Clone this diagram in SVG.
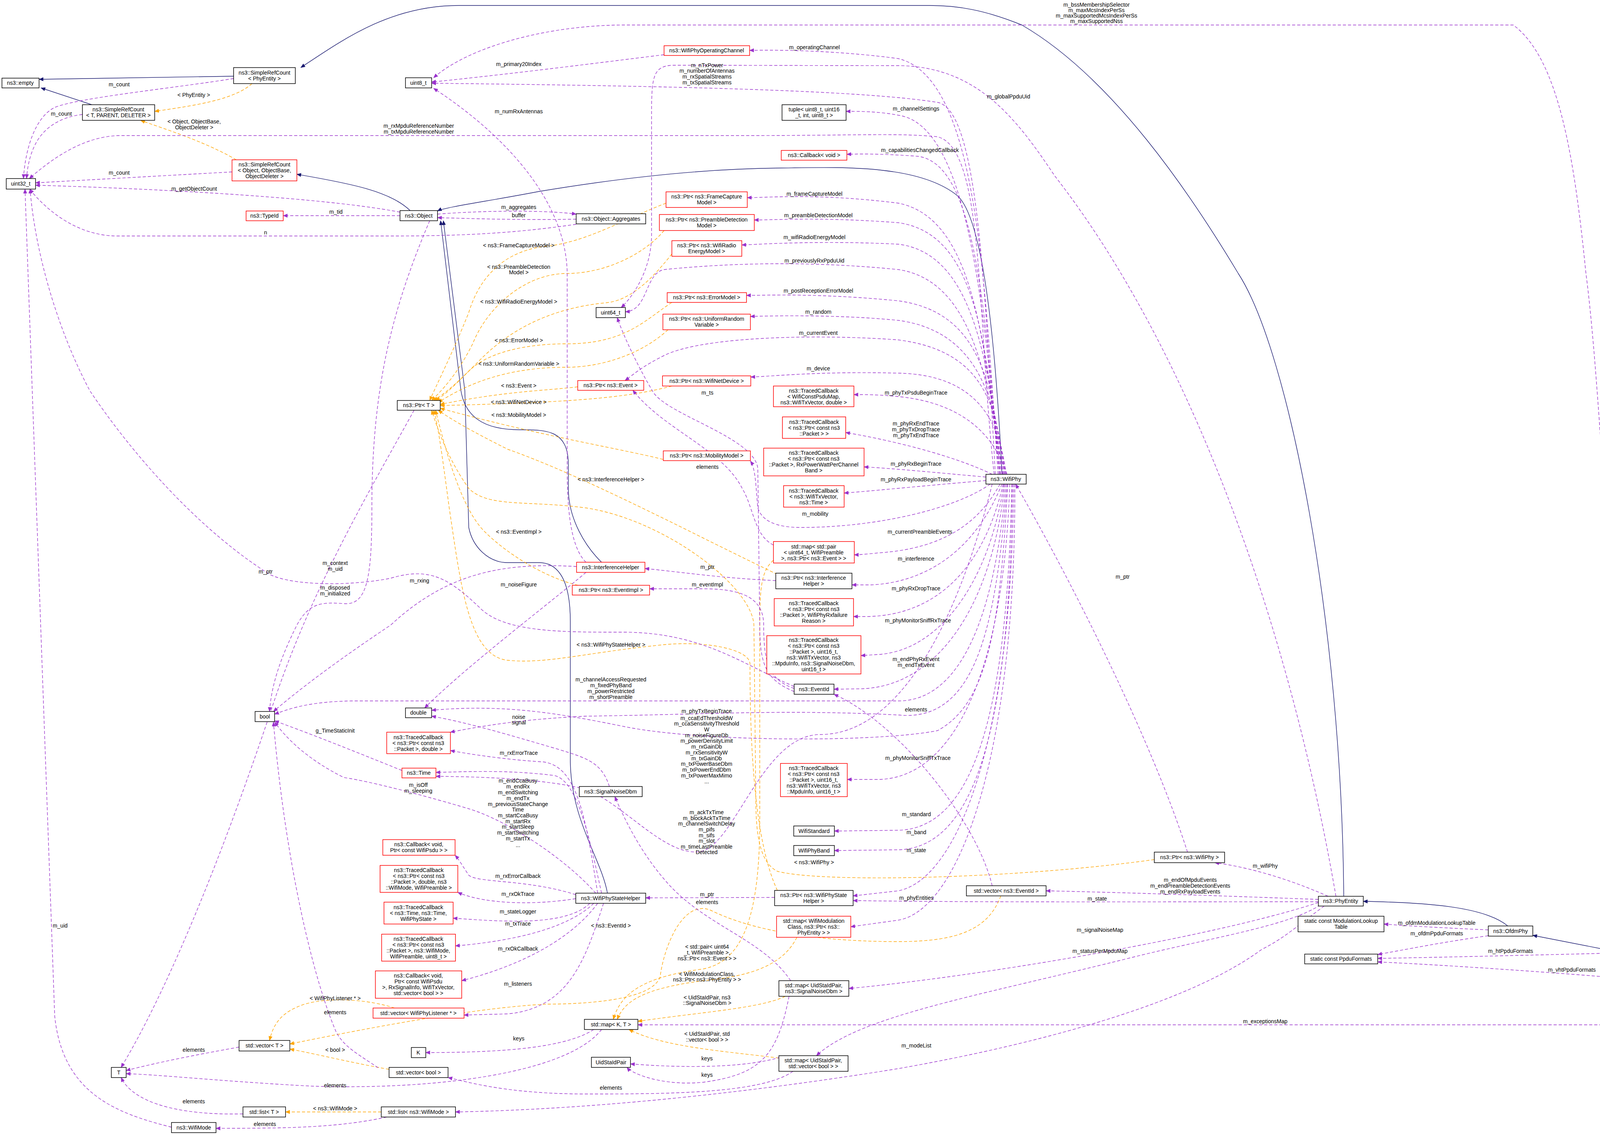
<svg xmlns="http://www.w3.org/2000/svg" width="4355" height="2905" viewBox="0 0 4355 2905">
<style>
text{font-family:"Liberation Sans",Arial,sans-serif;font-size:14px;text-anchor:middle;fill:#000}
.nb rect{fill:#fff;stroke:#000;stroke-width:1.5}
.nr rect{fill:#fff;stroke:#ff0000;stroke-width:1.5}
.ng rect{fill:#bfbfbf;stroke:#000;stroke-width:1.5}
#edges path{fill:none;stroke-width:1.4}
#edges .e{stroke:#9a32cd;stroke-dasharray:8,5;marker-end:url(#ap)}
#edges .o{stroke:#ffa500;stroke-dasharray:8,5;marker-end:url(#ao)}
#edges .h{stroke:#191970;marker-end:url(#ah)}
</style>
<defs>
<marker id="ap" viewBox="0 0 12 10" refX="11" refY="5" markerWidth="12" markerHeight="10" markerUnits="userSpaceOnUse" orient="auto"><path d="M0,0L12,5L0,10z" fill="#9a32cd"/></marker>
<marker id="ao" viewBox="0 0 12 10" refX="11" refY="5" markerWidth="12" markerHeight="10" markerUnits="userSpaceOnUse" orient="auto"><path d="M0,0L12,5L0,10z" fill="#ffa500"/></marker>
<marker id="ah" viewBox="0 0 12 10" refX="11" refY="5" markerWidth="12" markerHeight="10" markerUnits="userSpaceOnUse" orient="auto"><path d="M0,0L12,5L0,10z" fill="#191970"/></marker>
</defs>
<rect width="4355" height="2905" fill="#fff"/>
<g id="edges">
<path class="h" d="M3440,2294 C3435,1600 3300,900 3170,700 C3050,500 2850,200 2616,64 C2520,25 2450,14 2380,14 L1175,14 C1000,14 880,100 770,173"/>
<path class="h" d="M598,195 L100,203"/>
<path class="h" d="M235,268 L105,225"/>
<path class="h" d="M1050,539 C1000,490 900,470 760,446"/>
<path class="h" d="M2565,1214 C2550,900 2520,560 2450,500 C2350,420 2150,428 2000,430 C1750,432 1500,470 1380,490 C1250,515 1140,530 1120,540"/>
<path class="h" d="M1540,1439 C1500,1400 1455,1330 1455,1250 L1455,1190 C1455,1100 1400,1100 1330,1100 C1230,1100 1190,1060 1180,1000 L1128,565"/>
<path class="h" d="M1555,2286 C1540,2200 1462,2100 1460,1950 L1460,1590 C1460,1470 1420,1440 1380,1440 L1300,1440 C1250,1440 1210,1400 1200,1350 L1190,1000 L1135,565"/>
<path class="h" d="M3860,2370 C3800,2320 3650,2310 3490,2307"/>
<path class="h" d="M4108,2430 L3924,2394"/>
<path class="h" d="M4280,2502 L4185,2451"/>
<path class="o" d="M645,214 C600,255 500,270 396,285"/>
<path class="o" d="M605,409 C520,360 420,330 360,308"/>
<path class="o" d="M1705,520 C1600,560 1500,620 1400,630 C1300,640 1230,700 1200,800 C1160,900 1120,980 1100,1025"/>
<path class="o" d="M1700,590 C1650,650 1550,700 1450,700 C1350,700 1250,780 1210,880 C1170,960 1130,1000 1105,1025"/>
<path class="o" d="M1720,650 C1680,700 1620,770 1550,775 C1400,790 1300,850 1230,920 C1180,970 1150,1000 1110,1025"/>
<path class="o" d="M1720,774 C1650,820 1600,880 1450,880 C1350,880 1250,900 1200,950 C1160,990 1140,1010 1115,1025"/>
<path class="o" d="M1710,844 C1650,900 1550,940 1450,940 C1300,940 1200,980 1122,1030"/>
<path class="o" d="M1479,990 C1400,1000 1300,1000 1127,1035"/>
<path class="o" d="M1720,988 C1600,1020 1450,1030 1127,1038"/>
<path class="o" d="M1710,1179 C1600,1150 1400,1120 1127,1045"/>
<path class="o" d="M1990,1470 C1800,1380 1500,1220 1300,1150 C1200,1100 1150,1070 1122,1050"/>
<path class="o" d="M1480,1498 C1400,1480 1300,1420 1240,1360 C1180,1300 1140,1150 1115,1050"/>
<path class="o" d="M1990,2279 C1930,2150 1920,1900 1920,1700 C1920,1660 1800,1640 1700,1650 C1500,1670 1400,1700 1300,1690 C1200,1680 1180,1500 1150,1300 C1130,1150 1120,1080 1110,1050"/>
<path class="o" d="M2955,2200 C2600,2250 2100,2260 1990,2230 C1950,2210 1935,2150 1935,2050 L1930,1600 C1925,1500 1700,1330 1500,1300 C1350,1280 1250,1300 1200,1250 C1150,1180 1120,1100 1105,1050"/>
<path class="o" d="M1980,1434 C1950,1460 1945,1500 1945,1600 L1945,2100 C1945,2350 1900,2460 1800,2480 C1650,2500 1590,2540 1570,2609"/>
<path class="o" d="M2040,2399 C2000,2480 1900,2500 1800,2510 C1650,2530 1600,2560 1580,2609"/>
<path class="o" d="M2010,2550 C1950,2580 1800,2590 1633,2614"/>
<path class="o" d="M1994,2708 C1850,2690 1700,2680 1610,2635"/>
<path class="o" d="M1010,2580 C950,2560 850,2550 780,2570 C720,2590 700,2620 690,2663"/>
<path class="o" d="M996,2737 C900,2720 820,2700 742,2685"/>
<path class="o" d="M976,2846 L731,2846"/>
<path class="o" d="M2562,2293 C2530,2380 2450,2410 2300,2410 C2050,2410 1900,2370 1820,2330 C1750,2300 1700,2420 1690,2500 C1670,2560 1500,2570 1400,2570 C1200,2580 900,2640 742,2672"/>
<path class="e" d="M598,201 C450,225 200,250 140,275 C90,300 65,380 60,457"/>
<path class="e" d="M211,293 C150,300 110,330 90,370 C75,400 70,430 68,457"/>
<path class="e" d="M594,440 L91,468"/>
<path class="e" d="M1024,543 C800,500 300,480 91,474"/>
<path class="e" d="M1024,552 L725,552"/>
<path class="e" d="M1120,548 C1250,538 1400,538 1475,548"/>
<path class="e" d="M1475,561 C1350,563 1250,561 1120,557"/>
<path class="e" d="M1475,574 C1300,600 1150,604 1000,604 L300,604 C200,604 120,540 76,484"/>
<path class="e" d="M2545,1214 C2500,800 2520,380 2400,350 C2300,340 2200,347 1900,347 L310,347 C220,347 140,400 75,457"/>
<path class="e" d="M1700,140 C1500,165 1300,190 1105,210"/>
<path class="e" d="M2548,1214 C2520,700 2500,280 2400,262 C2200,230 1700,220 1105,213"/>
<path class="e" d="M1500,1439 C1460,1400 1452,1300 1452,1200 L1452,700 C1450,520 1300,350 1110,226"/>
<path class="e" d="M3420,2294 C3300,1600 3050,900 2700,450 C2600,300 2500,170 2300,168 L1720,167 C1670,170 1668,200 1668,300 L1668,600 C1668,700 1610,770 1590,787"/>
<path class="e" d="M2555,1214 C2520,700 2500,200 2300,150 C2150,130 2000,127 1919,129"/>
<path class="e" d="M2558,1214 C2520,800 2480,320 2300,295 C2250,285 2200,285 2166,285"/>
<path class="e" d="M2560,1214 C2520,800 2500,420 2350,400 C2280,395 2220,393 2168,395"/>
<path class="e" d="M2562,1214 C2520,900 2500,560 2300,520 C2100,495 1980,505 1913,506"/>
<path class="e" d="M2565,1214 C2520,900 2510,600 2300,570 C2100,555 1990,563 1931,563"/>
<path class="e" d="M2567,1214 C2530,950 2500,650 2300,625 C2100,615 1950,625 1899,627"/>
<path class="e" d="M2568,1214 C2530,1000 2500,720 2300,690 C2100,670 1900,670 1700,690 C1650,700 1660,795 1601,798"/>
<path class="e" d="M2570,1214 C2540,1000 2520,800 2300,770 C2100,750 1960,756 1911,756"/>
<path class="e" d="M2572,1214 C2550,1050 2520,850 2300,820 C2150,805 1980,808 1921,810"/>
<path class="e" d="M2574,1214 C2550,1050 2530,900 2300,870 C2100,855 1800,860 1700,910 C1640,940 1620,960 1600,974"/>
<path class="e" d="M2576,1214 C2560,1100 2520,960 2300,955 C2100,950 1980,963 1922,965"/>
<path class="e" d="M2578,1214 C2540,1100 2450,1030 2300,1015 C2250,1010 2220,1010 2186,1010"/>
<path class="e" d="M2540,1214 C2450,1170 2300,1130 2165,1107"/>
<path class="e" d="M2524,1221 C2400,1210 2300,1200 2212,1195"/>
<path class="e" d="M2524,1230 C2400,1240 2250,1255 2161,1262"/>
<path class="e" d="M2535,1239 C2450,1300 2250,1350 2050,1350 C1980,1350 1950,1330 1940,1300 C1935,1250 1935,1200 1921,1180"/>
<path class="e" d="M2560,1239 C2500,1350 2400,1405 2250,1415 C2220,1418 2200,1420 2187,1420"/>
<path class="e" d="M2565,1239 C2500,1400 2380,1490 2230,1497 L2181,1497"/>
<path class="e" d="M2568,1239 C2520,1450 2400,1575 2220,1578 L2185,1578"/>
<path class="e" d="M2570,1239 C2530,1500 2400,1665 2250,1675 L2204,1678"/>
<path class="e" d="M2572,1239 C2540,1550 2400,1760 2200,1763 L2135,1764"/>
<path class="e" d="M2575,1239 C2545,1600 2450,1794 2300,1794 L900,1794 C800,1796 750,1810 703,1828"/>
<path class="e" d="M2578,1239 C2550,1600 2500,1850 2300,1830 C2000,1815 1800,1829 1500,1833 C1350,1840 1250,1855 1153,1874"/>
<path class="e" d="M2580,1239 C2560,1600 2530,1800 2400,1870 C2250,1900 1800,1900 1600,1860 C1450,1830 1300,1800 1105,1818"/>
<path class="e" d="M2585,1239 C2570,1700 2450,1990 2250,1995 L2169,1995"/>
<path class="e" d="M2590,1239 C2580,1800 2500,2120 2300,2125 L2136,2127"/>
<path class="e" d="M2592,1239 C2585,1850 2500,2170 2300,2175 L2136,2177"/>
<path class="e" d="M2595,1239 C2590,1900 2450,2250 2300,2280 L2184,2293"/>
<path class="e" d="M2598,1239 C2600,1950 2450,2330 2300,2355 L2178,2372"/>
<path class="e" d="M2033,1770 C1960,1740 1945,1700 1945,1600 L1940,1200 C1935,1120 1700,1060 1670,1000 C1640,950 1600,870 1580,813"/>
<path class="e" d="M1980,1395 C1930,1370 1930,1300 1900,1250 C1850,1150 1700,1100 1620,999"/>
<path class="e" d="M1986,1486 C1850,1480 1750,1465 1651,1455"/>
<path class="e" d="M2033,1762 C1970,1740 1955,1700 1955,1600 C1955,1530 1900,1507 1800,1507 L1663,1507"/>
<path class="e" d="M2540,2267 C2500,2100 2300,1850 2135,1777"/>
<path class="e" d="M2033,1757 C1900,1700 1800,1620 1600,1618 C1450,1618 1300,1620 1234,1561 C1150,1480 1100,1450 1000,1480 C900,1500 750,1500 690,1470 C500,1350 330,1150 230,1000 C150,850 90,650 77,484"/>
<path class="e" d="M1060,1050 C950,1250 800,1500 700,1800 C600,2100 450,2500 310,2732"/>
<path class="e" d="M1100,565 C1000,800 952,1000 952,1300 C952,1480 940,1550 880,1545 C820,1540 790,1545 760,1600 C720,1680 695,1750 690,1821"/>
<path class="e" d="M1476,1450 C1300,1440 1150,1460 1000,1600 C850,1700 760,1770 700,1821"/>
<path class="e" d="M1500,1465 C1400,1550 1200,1700 1087,1812"/>
<path class="e" d="M1560,2013 C1540,1950 1500,1940 1430,1918 C1300,1880 1200,1850 1105,1833"/>
<path class="e" d="M1530,2286 C1500,2100 1480,1960 1390,1950 C1300,1945 1200,1930 1153,1921"/>
<path class="e" d="M1540,2286 C1510,2150 1480,2000 1420,1985 C1300,1970 1200,1975 1116,1977"/>
<path class="e" d="M2540,1239 C2450,1600 2300,1880 2100,1880 C1950,1880 1880,2170 1790,2180 C1700,2190 1600,2060 1500,2020 C1400,1995 1250,1988 1116,1987"/>
<path class="e" d="M1525,2286 C1450,2200 1300,2100 1200,2070 C1100,2040 950,2000 880,1990 C800,1950 740,1900 703,1848"/>
<path class="e" d="M1029,1972 C900,1920 800,1880 703,1845"/>
<path class="e" d="M1474,2290 C1350,2250 1220,2260 1200,2240 C1180,2210 1175,2200 1165,2189"/>
<path class="e" d="M1474,2300 C1350,2320 1230,2310 1172,2284"/>
<path class="e" d="M1510,2312 C1450,2370 1300,2360 1160,2350"/>
<path class="e" d="M1520,2312 C1450,2380 1300,2410 1166,2421"/>
<path class="e" d="M1530,2312 C1450,2420 1300,2480 1182,2510"/>
<path class="e" d="M1545,2312 C1500,2450 1460,2580 1300,2595 L1188,2598"/>
<path class="e" d="M2024,2510 C1950,2400 1800,2370 1700,2250 C1640,2180 1600,2100 1574,2039"/>
<path class="e" d="M1983,2297 L1653,2298"/>
<path class="e" d="M4290,2528 C4270,2590 4240,2623 4160,2623 L1633,2623"/>
<path class="e" d="M3390,2319 C3320,2370 3290,2400 3230,2430 C3000,2600 2500,2700 2300,2735 C1900,2800 1500,2840 1166,2846"/>
<path class="e" d="M3375,2310 C3100,2400 2500,2500 2173,2530"/>
<path class="e" d="M3380,2316 C3300,2370 3100,2400 2900,2450 C2500,2550 2200,2600 2090,2702"/>
<path class="e" d="M3375,2308 C3000,2308 2500,2310 2184,2305"/>
<path class="e" d="M3375,2302 C3100,2292 2900,2285 2678,2280"/>
<path class="e" d="M3400,2294 C3300,2250 3200,2220 3110,2208"/>
<path class="e" d="M3040,2181 C2950,1900 2750,1500 2600,1239"/>
<path class="e" d="M4150,2426 C4145,1900 4100,1000 4060,700 C4030,400 3990,150 3874,64 L1600,64 C1400,64 1200,120 1110,199"/>
<path class="e" d="M3810,2380 C3700,2375 3600,2370 3543,2365"/>
<path class="e" d="M3810,2395 C3700,2410 3600,2430 3527,2443"/>
<path class="e" d="M4108,2440 C3900,2445 3700,2450 3527,2453"/>
<path class="e" d="M4251,2512 C4000,2490 3700,2470 3527,2462"/>
<path class="e" d="M1520,2635 C1450,2680 1300,2694 1090,2694"/>
<path class="e" d="M1540,2635 C1450,2750 1100,2790 800,2780 C600,2770 400,2750 323,2748"/>
<path class="e" d="M612,2680 C500,2700 400,2720 323,2740"/>
<path class="e" d="M622,2851 C450,2855 340,2820 310,2758"/>
<path class="e" d="M990,2859 C850,2890 700,2887 553,2888"/>
<path class="e" d="M439,2885 C300,2850 160,2800 140,2600 L64,484"/>
<path class="e" d="M2010,2702 C1900,2740 1700,2730 1614,2723"/>
<path class="e" d="M2020,2550 C1990,2700 1950,2750 1800,2770 C1700,2780 1620,2750 1605,2732"/>
<path class="e" d="M2030,2742 C1950,2800 1700,2800 1500,2800 C1300,2800 1200,2770 1147,2758"/>
<path class="e" d="M968,2733 C920,2700 880,2680 860,2640 C800,2500 730,2200 700,1848"/>
</g>
<g id="labels">
<text x="305" y="221">m_count</text><text x="157" y="296">m_count</text>
<text x="496" y="248">&lt; PhyEntity &gt;</text>
<text x="497" y="316">&lt; Object, ObjectBase,</text><text x="497" y="331">ObjectDeleter &gt;</text>
<text x="1072" y="327">m_rxMpduReferenceNumber</text><text x="1072" y="342">m_txMpduReferenceNumber</text>
<text x="305" y="447">m_count</text><text x="497" y="488">m_getObjectCount</text>
<text x="860" y="547">m_tid</text><text x="1328" y="535">m_aggregates</text><text x="1328" y="556">buffer</text>
<text x="680" y="600">n</text><text x="1328" y="169">m_primary20Index</text><text x="1328" y="290">m_numRxAntennas</text>
<text x="2085" y="126">m_operatingChannel</text>
<text x="1810" y="172">m_nTxPower</text><text x="1810" y="186">m_numberOfAntennas</text><text x="1810" y="201">m_rxSpatialStreams</text><text x="1810" y="216">m_txSpatialStreams</text>
<text x="2582" y="252">m_globalPpduUid</text>
<text x="2345" y="283">m_channelSettings</text><text x="2355" y="389">m_capabilitiesChangedCallback</text>
<text x="2085" y="501">m_frameCaptureModel</text><text x="2095" y="556">m_preambleDetectionModel</text>
<text x="2085" y="612">m_wifiRadioEnergyModel</text><text x="2085" y="672">m_previouslyRxPpduUid</text>
<text x="2095" y="749">m_postReceptionErrorModel</text><text x="2095" y="803">m_random</text>
<text x="2095" y="857">m_currentEvent</text><text x="2095" y="948">m_device</text>
<text x="1328" y="633">&lt; ns3::FrameCaptureModel &gt;</text>
<text x="1328" y="688">&lt; ns3::PreambleDetection</text><text x="1328" y="702">Model &gt;</text>
<text x="1328" y="777">&lt; ns3::WifiRadioEnergyModel &gt;</text><text x="1328" y="876">&lt; ns3::ErrorModel &gt;</text>
<text x="1328" y="936">&lt; ns3::UniformRandomVariable &gt;</text><text x="1328" y="992">&lt; ns3::Event &gt;</text>
<text x="1328" y="1034">&lt; ns3::WifiNetDevice &gt;</text><text x="1328" y="1067">&lt; ns3::MobilityModel &gt;</text>
<text x="1811" y="1010">m_ts</text><text x="2345" y="1010">m_phyTxPsduBeginTrace</text>
<text x="2345" y="1089">m_phyRxEndTrace</text><text x="2345" y="1104">m_phyTxDropTrace</text><text x="2345" y="1119">m_phyTxEndTrace</text>
<text x="2345" y="1192">m_phyRxBeginTrace</text><text x="2345" y="1232">m_phyRxPayloadBeginTrace</text>
<text x="1811" y="1200">elements</text><text x="1564" y="1232">&lt; ns3::InterferenceHelper &gt;</text>
<text x="2087" y="1320">m_mobility</text><text x="2355" y="1366">m_currentPreambleEvents</text>
<text x="2345" y="1435">m_interference</text><text x="1811" y="1456">m_ptr</text><text x="1811" y="1501">m_eventImpl</text>
<text x="2345" y="1511">m_phyRxDropTrace</text><text x="2350" y="1593">m_phyMonitorSniffRxTrace</text>
<text x="1564" y="1655">&lt; ns3::WifiPhyStateHelper &gt;</text>
<text x="2345" y="1692">m_endPhyRxEvent</text><text x="2345" y="1707">m_endTxEvent</text>
<text x="1564" y="1744">m_channelAccessRequested</text><text x="1564" y="1759">m_fixedPhyBand</text><text x="1564" y="1774">m_powerRestricted</text><text x="1564" y="1789">m_shortPreamble</text>
<text x="2345" y="1821">elements</text>
<text x="1809" y="1825">m_phyTxBeginTrace</text><text x="1809" y="1843">m_ccaEdThresholdW</text><text x="1809" y="1857">m_ccaSensitivityThreshold</text><text x="1809" y="1872">W</text><text x="1809" y="1887">m_noiseFigureDb</text><text x="1809" y="1901">m_powerDensityLimit</text><text x="1809" y="1916">m_rxGainDb</text><text x="1809" y="1931">m_rxSensitivityW</text><text x="1809" y="1946">m_txGainDb</text><text x="1809" y="1960">m_txPowerBaseDbm</text><text x="1809" y="1975">m_txPowerEndDbm</text><text x="1809" y="1990">m_txPowerMaxMimo</text><text x="1809" y="2005">...</text>
<text x="2350" y="1945">m_phyMonitorSniffTxTrace</text>
<text x="680" y="1468">m_ptr</text><text x="858" y="1446">m_context</text><text x="858" y="1461">m_uid</text>
<text x="858" y="1509">m_disposed</text><text x="858" y="1524">m_initialized</text><text x="1074" y="1491">m_rxing</text>
<text x="1328" y="1366">&lt; ns3::EventImpl &gt;</text><text x="1328" y="1501">m_noiseFigure</text>
<text x="1328" y="1840">noise</text><text x="1328" y="1854">signal</text><text x="858" y="1875">g_TimeStaticInit</text>
<text x="1328" y="1932">m_rxErrorTrace</text><text x="1071" y="2014">m_isOff</text><text x="1071" y="2029">m_sleeping</text>
<text x="1326" y="2003">m_endCcaBusy</text><text x="1326" y="2018">m_endRx</text><text x="1326" y="2033">m_endSwitching</text><text x="1326" y="2048">m_endTx</text><text x="1326" y="2063">m_previousStateChange</text><text x="1326" y="2077">Time</text><text x="1326" y="2092">m_startCcaBusy</text><text x="1326" y="2107">m_startRx</text><text x="1326" y="2121">m_startSleep</text><text x="1326" y="2136">m_startSwitching</text><text x="1326" y="2151">m_startTx</text><text x="1326" y="2168">...</text>
<text x="1809" y="2084">m_ackTxTime</text><text x="1809" y="2099">m_blockAckTxTime</text><text x="1809" y="2113">m_channelSwitchDelay</text><text x="1809" y="2128">m_pifs</text><text x="1809" y="2143">m_sifs</text><text x="1809" y="2157">m_slot</text><text x="1809" y="2172">m_timeLastPreamble</text><text x="1809" y="2186">Detected</text>
<text x="2346" y="2089">m_standard</text><text x="2346" y="2135">m_band</text><text x="2346" y="2181">m_state</text><text x="2346" y="2303">m_phyEntities</text>
<text x="2084" y="2212">&lt; ns3::WifiPhy &gt;</text><text x="1810" y="2294">m_ptr</text><text x="1810" y="2314">elements</text>
<text x="1326" y="2247">m_rxErrorCallback</text><text x="1326" y="2293">m_rxOkTrace</text><text x="1326" y="2338">m_stateLogger</text>
<text x="1326" y="2369">m_txTrace</text><text x="1326" y="2433">m_rxOkCallback</text><text x="1326" y="2523">m_listeners</text>
<text x="1564" y="2374">&lt; ns3::EventId &gt;</text>
<text x="1810" y="2428">&lt; std::pair&lt; uint64</text><text x="1810" y="2443">_t, WifiPreamble &gt;,</text><text x="1810" y="2458">ns3::Ptr&lt; ns3::Event &gt; &gt;</text>
<text x="1810" y="2498">&lt; WifiModulationClass,</text><text x="1810" y="2512">ns3::Ptr&lt; ns3::PhyEntity &gt; &gt;</text>
<text x="1810" y="2558">&lt; UidStaIdPair, ns3</text><text x="1810" y="2572">::SignalNoiseDbm &gt;</text>
<text x="858" y="2560">&lt; WifiPhyListener * &gt;</text><text x="858" y="2596">elements</text><text x="1328" y="2663">keys</text>
<text x="1810" y="2651">&lt; UidStaIdPair, std</text><text x="1810" y="2666">::vector&lt; bool &gt; &gt;</text>
<text x="858" y="2692">&lt; bool &gt;</text><text x="496" y="2692">elements</text><text x="1810" y="2714">keys</text><text x="1810" y="2756">keys</text>
<text x="858" y="2783">elements</text><text x="1564" y="2789">elements</text><text x="496" y="2824">elements</text>
<text x="858" y="2842">&lt; ns3::WifiMode &gt;</text><text x="678" y="2882">elements</text><text x="154" y="2374">m_uid</text>
<text x="2874" y="1481">m_ptr</text><text x="3239" y="2221">m_wifiPhy</text>
<text x="3047" y="2257">m_endOfMpduEvents</text><text x="3047" y="2272">m_endPreambleDetectionEvents</text><text x="3047" y="2287">m_endRxPayloadEvents</text>
<text x="2809" y="2305">m_state</text><text x="2816" y="2385">m_signalNoiseMap</text><text x="2816" y="2439">m_statusPerMpduMap</text>
<text x="2346" y="2681">m_modeList</text><text x="3239" y="2619">m_exceptionsMap</text>
<text x="3678" y="2367">m_ofdmModulationLookupTable</text><text x="3678" y="2394">m_ofdmPpduFormats</text>
<text x="3867" y="2439">m_htPpduFormats</text><text x="4024" y="2487">m_vhtPpduFormats</text>
<text x="2807" y="17">m_bssMembershipSelector</text><text x="2807" y="31">m_maxMcsIndexPerSs</text><text x="2807" y="45">m_maxSupportedMcsIndexPerSs</text><text x="2807" y="59">m_maxSupportedNss</text>
</g>
<g id="n1" class="nb"><rect x="5" y="200" width="95" height="25"/><text x="52" y="217">ns3::empty</text></g>
<g id="n2" class="nb"><rect x="598" y="173" width="158" height="41"/><text x="677" y="191">ns3::SimpleRefCount</text><text x="677" y="206">&lt; PhyEntity &gt;</text></g>
<g id="n3" class="nb"><rect x="211" y="268" width="185" height="40"/><text x="303" y="285">ns3::SimpleRefCount</text><text x="303" y="300">&lt; T, PARENT, DELETER &gt;</text></g>
<g id="n4" class="nb"><rect x="1038" y="199" width="67" height="26"/><text x="1071" y="217">uint8_t</text></g>
<g id="n5" class="nb"><rect x="16" y="457" width="75" height="27"/><text x="53" y="475">uint32_t</text></g>
<g id="n6" class="nr"><rect x="594" y="409" width="166" height="54"/><text x="677" y="426">ns3::SimpleRefCount</text><text x="677" y="441">&lt; Object, ObjectBase,</text><text x="677" y="456">ObjectDeleter &gt;</text></g>
<g id="n7" class="nb"><rect x="1024" y="539" width="96" height="26"/><text x="1072" y="557">ns3::Object</text></g>
<g id="n8" class="nr"><rect x="630" y="540" width="95" height="25"/><text x="677" y="557">ns3::TypeId</text></g>
<g id="n9" class="nb"><rect x="1475" y="547" width="178" height="26"/><text x="1564" y="565">ns3::Object::Aggregates</text></g>
<g id="n10" class="nr"><rect x="1700" y="117" width="219" height="25"/><text x="1809" y="134">ns3::WifiPhyOperatingChannel</text></g>
<g id="n11" class="nb"><rect x="2002" y="268" width="164" height="40"/><text x="2084" y="285">tuple&lt; uint8_t, uint16</text><text x="2084" y="300">_t, int, uint8_t &gt;</text></g>
<g id="n12" class="nr"><rect x="2000" y="385" width="168" height="25"/><text x="2084" y="402">ns3::Callback&lt; void &gt;</text></g>
<g id="n13" class="nr"><rect x="1705" y="491" width="208" height="40"/><text x="1809" y="508">ns3::Ptr&lt; ns3::FrameCapture</text><text x="1809" y="523">Model &gt;</text></g>
<g id="n14" class="nr"><rect x="1688" y="549" width="243" height="41"/><text x="1809" y="567">ns3::Ptr&lt; ns3::PreambleDetection</text><text x="1809" y="582">Model &gt;</text></g>
<g id="n15" class="nr"><rect x="1720" y="616" width="179" height="40"/><text x="1809" y="633">ns3::Ptr&lt; ns3::WifiRadio</text><text x="1809" y="648">EnergyModel &gt;</text></g>
<g id="n16" class="nb"><rect x="1526" y="787" width="75" height="26"/><text x="1563" y="805">uint64_t</text></g>
<g id="n17" class="nr"><rect x="1708" y="749" width="203" height="25"/><text x="1809" y="766">ns3::Ptr&lt; ns3::ErrorModel &gt;</text></g>
<g id="n18" class="nr"><rect x="1697" y="804" width="224" height="40"/><text x="1809" y="821">ns3::Ptr&lt; ns3::UniformRandom</text><text x="1809" y="836">Variable &gt;</text></g>
<g id="n19" class="nr"><rect x="1479" y="974" width="169" height="25"/><text x="1563" y="991">ns3::Ptr&lt; ns3::Event &gt;</text></g>
<g id="n20" class="nr"><rect x="1696" y="962" width="226" height="26"/><text x="1809" y="980">ns3::Ptr&lt; ns3::WifiNetDevice &gt;</text></g>
<g id="n21" class="nr"><rect x="1980" y="988" width="206" height="53"/><text x="2083" y="1005">ns3::TracedCallback</text><text x="2083" y="1020">&lt; WifiConstPsduMap,</text><text x="2083" y="1035">ns3::WifiTxVector, double &gt;</text></g>
<g id="n22" class="nb"><rect x="1017" y="1025" width="110" height="25"/><text x="1072" y="1042">ns3::Ptr&lt; T &gt;</text></g>
<g id="n23" class="nr"><rect x="2003" y="1067" width="162" height="55"/><text x="2084" y="1085">ns3::TracedCallback</text><text x="2084" y="1100">&lt; ns3::Ptr&lt; const ns3</text><text x="2084" y="1115">::Packet &gt; &gt;</text></g>
<g id="n24" class="nr"><rect x="1955" y="1147" width="257" height="71"/><text x="2083" y="1164">ns3::TracedCallback</text><text x="2083" y="1179">&lt; ns3::Ptr&lt; const ns3</text><text x="2083" y="1194">::Packet &gt;, RxPowerWattPerChannel</text><text x="2083" y="1209">Band &gt;</text></g>
<g id="n25" class="nr"><rect x="1698" y="1154" width="223" height="25"/><text x="1809" y="1171">ns3::Ptr&lt; ns3::MobilityModel &gt;</text></g>
<g id="n26" class="nb"><rect x="2524" y="1214" width="103" height="25"/><text x="2575" y="1231">ns3::WifiPhy</text></g>
<g id="n27" class="nr"><rect x="2006" y="1243" width="155" height="55"/><text x="2083" y="1261">ns3::TracedCallback</text><text x="2083" y="1276">&lt; ns3::WifiTxVector,</text><text x="2083" y="1291">ns3::Time &gt;</text></g>
<g id="n28" class="nr"><rect x="1980" y="1386" width="207" height="55"/><text x="2083" y="1404">std::map&lt; std::pair</text><text x="2083" y="1419">&lt; uint64_t, WifiPreamble</text><text x="2083" y="1434">&gt;, ns3::Ptr&lt; ns3::Event &gt; &gt;</text></g>
<g id="n29" class="nr"><rect x="1476" y="1439" width="175" height="26"/><text x="1563" y="1457">ns3::InterferenceHelper</text></g>
<g id="n30" class="nb"><rect x="1986" y="1467" width="195" height="40"/><text x="2083" y="1484">ns3::Ptr&lt; ns3::Interference</text><text x="2083" y="1499">Helper &gt;</text></g>
<g id="n31" class="nr"><rect x="1465" y="1498" width="198" height="25"/><text x="1564" y="1515">ns3::Ptr&lt; ns3::EventImpl &gt;</text></g>
<g id="n32" class="nr"><rect x="1982" y="1532" width="203" height="70"/><text x="2083" y="1549">ns3::TracedCallback</text><text x="2083" y="1564">&lt; ns3::Ptr&lt; const ns3</text><text x="2083" y="1579">::Packet &gt;, WifiPhyRxfailure</text><text x="2083" y="1594">Reason &gt;</text></g>
<g id="n33" class="nr"><rect x="1963" y="1627" width="241" height="98"/><text x="2083" y="1643">ns3::TracedCallback</text><text x="2083" y="1658">&lt; ns3::Ptr&lt; const ns3</text><text x="2083" y="1673">::Packet &gt;, uint16_t,</text><text x="2083" y="1688">ns3::WifiTxVector, ns3</text><text x="2083" y="1703">::MpduInfo, ns3::SignalNoiseDbm,</text><text x="2083" y="1718">uint16_t &gt;</text></g>
<g id="n34" class="nb"><rect x="2033" y="1751" width="102" height="26"/><text x="2084" y="1769">ns3::EventId</text></g>
<g id="n35" class="nb"><rect x="653" y="1821" width="50" height="26"/><text x="678" y="1839">bool</text></g>
<g id="n36" class="nb"><rect x="1038" y="1812" width="67" height="25"/><text x="1071" y="1829">double</text></g>
<g id="n37" class="nr"><rect x="990" y="1874" width="163" height="55"/><text x="1071" y="1892">ns3::TracedCallback</text><text x="1071" y="1907">&lt; ns3::Ptr&lt; const ns3</text><text x="1071" y="1922">::Packet &gt;, double &gt;</text></g>
<g id="n38" class="nr"><rect x="1029" y="1966" width="87" height="25"/><text x="1072" y="1983">ns3::Time</text></g>
<g id="n39" class="nr"><rect x="1998" y="1954" width="171" height="85"/><text x="2083" y="1971">ns3::TracedCallback</text><text x="2083" y="1986">&lt; ns3::Ptr&lt; const ns3</text><text x="2083" y="2001">::Packet &gt;, uint16_t,</text><text x="2083" y="2016">ns3::WifiTxVector, ns3</text><text x="2083" y="2031">::MpduInfo, uint16_t &gt;</text></g>
<g id="n40" class="nb"><rect x="1483" y="2013" width="161" height="26"/><text x="1563" y="2031">ns3::SignalNoiseDbm</text></g>
<g id="n41" class="nb"><rect x="2032" y="2114" width="104" height="26"/><text x="2084" y="2132">WifiStandard</text></g>
<g id="n42" class="nb"><rect x="2032" y="2164" width="104" height="26"/><text x="2084" y="2182">WifiPhyBand</text></g>
<g id="n43" class="nr"><rect x="980" y="2149" width="185" height="40"/><text x="1072" y="2166">ns3::Callback&lt; void,</text><text x="1072" y="2181">Ptr&lt; const WifiPsdu &gt; &gt;</text></g>
<g id="n44" class="nr"><rect x="973" y="2215" width="199" height="69"/><text x="1072" y="2232">ns3::TracedCallback</text><text x="1072" y="2247">&lt; ns3::Ptr&lt; const ns3</text><text x="1072" y="2262">::Packet &gt;, double, ns3</text><text x="1072" y="2277">::WifiMode, WifiPreamble &gt;</text></g>
<g id="n45" class="nb"><rect x="1474" y="2286" width="179" height="26"/><text x="1563" y="2304">ns3::WifiPhyStateHelper</text></g>
<g id="n46" class="nb"><rect x="1983" y="2279" width="201" height="39"/><text x="2083" y="2296">ns3::Ptr&lt; ns3::WifiPhyState</text><text x="2083" y="2311">Helper &gt;</text></g>
<g id="n47" class="nr"><rect x="983" y="2309" width="177" height="56"/><text x="1071" y="2327">ns3::TracedCallback</text><text x="1071" y="2342">&lt; ns3::Time, ns3::Time,</text><text x="1071" y="2357">WifiPhyState &gt;</text></g>
<g id="n48" class="nr"><rect x="1988" y="2345" width="190" height="54"/><text x="2083" y="2362">std::map&lt; WifiModulation</text><text x="2083" y="2377">Class, ns3::Ptr&lt; ns3::</text><text x="2083" y="2392">PhyEntity &gt; &gt;</text></g>
<g id="n49" class="nr"><rect x="977" y="2391" width="189" height="69"/><text x="1071" y="2408">ns3::TracedCallback</text><text x="1071" y="2423">&lt; ns3::Ptr&lt; const ns3</text><text x="1071" y="2438">::Packet &gt;, ns3::WifiMode,</text><text x="1071" y="2453">WifiPreamble, uint8_t &gt;</text></g>
<g id="n50" class="nr"><rect x="961" y="2485" width="221" height="70"/><text x="1071" y="2502">ns3::Callback&lt; void,</text><text x="1071" y="2517">Ptr&lt; const WifiPsdu</text><text x="1071" y="2532">&gt;, RxSignalInfo, WifiTxVector,</text><text x="1071" y="2547">std::vector&lt; bool &gt; &gt;</text></g>
<g id="n51" class="nb"><rect x="1994" y="2510" width="179" height="40"/><text x="2083" y="2527">std::map&lt; UidStaIdPair,</text><text x="2083" y="2542">ns3::SignalNoiseDbm &gt;</text></g>
<g id="n52" class="nr"><rect x="955" y="2580" width="233" height="26"/><text x="1071" y="2598">std::vector&lt; WifiPhyListener * &gt;</text></g>
<g id="n53" class="nb"><rect x="1496" y="2609" width="137" height="26"/><text x="1564" y="2627">std::map&lt; K, T &gt;</text></g>
<g id="n54" class="nb"><rect x="612" y="2663" width="130" height="27"/><text x="677" y="2681">std::vector&lt; T &gt;</text></g>
<g id="n55" class="nb"><rect x="1053" y="2681" width="37" height="26"/><text x="1071" y="2699">K</text></g>
<g id="n56" class="nb"><rect x="285" y="2732" width="38" height="26"/><text x="304" y="2750">T</text></g>
<g id="n57" class="nb"><rect x="996" y="2732" width="151" height="26"/><text x="1071" y="2750">std::vector&lt; bool &gt;</text></g>
<g id="n58" class="nb"><rect x="1514" y="2706" width="100" height="26"/><text x="1564" y="2724">UidStaIdPair</text></g>
<g id="n59" class="nb"><rect x="1994" y="2702" width="177" height="40"/><text x="2082" y="2719">std::map&lt; UidStaIdPair,</text><text x="2082" y="2734">std::vector&lt; bool &gt; &gt;</text></g>
<g id="n60" class="nb"><rect x="622" y="2833" width="109" height="26"/><text x="676" y="2851">std::list&lt; T &gt;</text></g>
<g id="n61" class="nb"><rect x="976" y="2833" width="190" height="26"/><text x="1071" y="2851">std::list&lt; ns3::WifiMode &gt;</text></g>
<g id="n62" class="nb"><rect x="439" y="2873" width="114" height="26"/><text x="496" y="2891">ns3::WifiMode</text></g>
<g id="n63" class="nb"><rect x="2955" y="2181" width="180" height="27"/><text x="3045" y="2199">ns3::Ptr&lt; ns3::WifiPhy &gt;</text></g>
<g id="n64" class="nb"><rect x="2474" y="2267" width="204" height="26"/><text x="2576" y="2285">std::vector&lt; ns3::EventId &gt;</text></g>
<g id="n65" class="nb"><rect x="3375" y="2294" width="115" height="25"/><text x="3432" y="2311">ns3::PhyEntity</text></g>
<g id="n66" class="nb"><rect x="3323" y="2345" width="220" height="40"/><text x="3433" y="2362">static const ModulationLookup</text><text x="3433" y="2377">Table</text></g>
<g id="n67" class="nb"><rect x="3810" y="2370" width="114" height="26"/><text x="3867" y="2388">ns3::OfdmPhy</text></g>
<g id="n68" class="nb"><rect x="3340" y="2442" width="187" height="25"/><text x="3433" y="2459">static const PpduFormats</text></g>
<g id="n69" class="nb"><rect x="4108" y="2426" width="92" height="25"/><text x="4154" y="2443">ns3::HtPhy</text></g>
<g id="n70" class="ng"><rect x="4251" y="2502" width="98" height="26"/><text x="4300" y="2520">ns3::VhtPhy</text></g>
</svg>
